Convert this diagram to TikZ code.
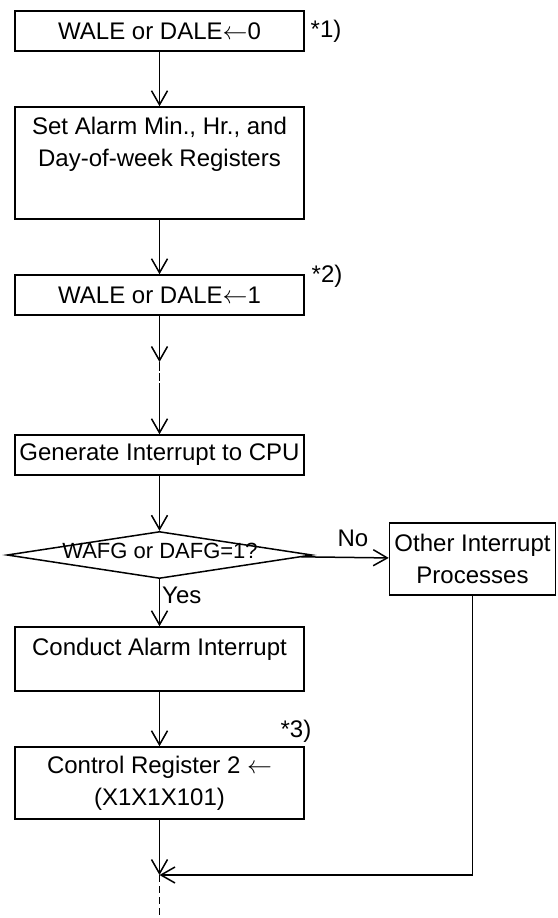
\documentclass[tikz,border=0pt]{standalone}
\usepackage{fontspec}
\setmainfont{Liberation Sans}
\usetikzlibrary{arrows.meta,shapes.geometric}

\tikzset{
  procbox/.style={draw, line width=1.5pt, minimum width=289pt, minimum height=40pt, align=center, inner sep=0pt},
  decision/.style={draw, diamond, line width=1.5pt, minimum width=305pt, minimum height=47pt, inner sep=0pt},
  flow/.style={line width=1.5pt, -{Straight Barb[length=14pt,width=16pt]}},
  note/.style={inner sep=0pt}
}

\begin{document}
\begin{tikzpicture}[x=1pt, y=-1pt, font=\fontsize{24}{32}\selectfont]
    \useasboundingbox (0,0) rectangle (557,918);

    % Main column
    \node[procbox] (wale0) at (159.5,31) {WALE or DALE$\leftarrow$0};
    \node[procbox, minimum height=112pt] (setalarm) at (159.5,163) {Set Alarm Min., Hr., and\\Day-of-week Registers\\[10pt]~};
    \node[procbox] (wale1) at (159.5,295) {WALE or DALE$\leftarrow$1};
    \node[procbox] (geni) at (159.5,455) {Generate Interrupt to CPU};
    \node[decision] (chk) at (159.5,555) {};
    \node[note, font=\fontsize{22}{26}\selectfont] (chktext) at (160,551) {WAFG or DAFG=1?};
    \node[procbox, minimum height=64pt] (conduct) at (159.5,659) {Conduct Alarm Interrupt\\[-7pt]~};
    \node[procbox, minimum height=72pt] (ctrl) at (159.5,783) {Control Register 2 $\leftarrow$\\(X1X1X101)};

    % Side branch
    \node[procbox, minimum width=166pt, minimum height=72pt] (other) at (472.5,559) {Other Interrupt\\Processes};

    % Notes
    \node[note] (n1) at (326,31) {*1)};
    \node[note] (n2) at (327,276) {*2)};
    \node[note] (n3) at (296,731) {*3)};
    \node[note] (no) at (353,538) {No};
    \node[note, anchor=west] (yes) at (162,595) {Yes};

    \coordinate (brk) at (159.5,362);
    \coordinate (join) at (159.5,875);
    \coordinate (tail) at (159.5,918);

    % Arrows
    \draw[flow] (wale0) -- (setalarm);
    \draw[flow] (setalarm) -- (wale1);
    \draw[flow] (wale1) -- (brk);
    \draw[flow, dash pattern=on 9pt off 2pt on 8pt off 2pt on 200pt off 0pt] (brk) -- (geni);
    \draw[flow] (geni) -- (chk);
    \draw[flow] (chk) -- (conduct);
    \draw[flow] (chk) -- (other);
    \draw[flow] (conduct) -- (ctrl);
    \draw[flow] (ctrl) -- (join);
    \draw[flow] (other) -- (other |- join) -- (join);
    \draw[line width=1.5pt, dash pattern=on 7pt off 4pt] (join) -- (tail);
\end{tikzpicture}
\end{document}
